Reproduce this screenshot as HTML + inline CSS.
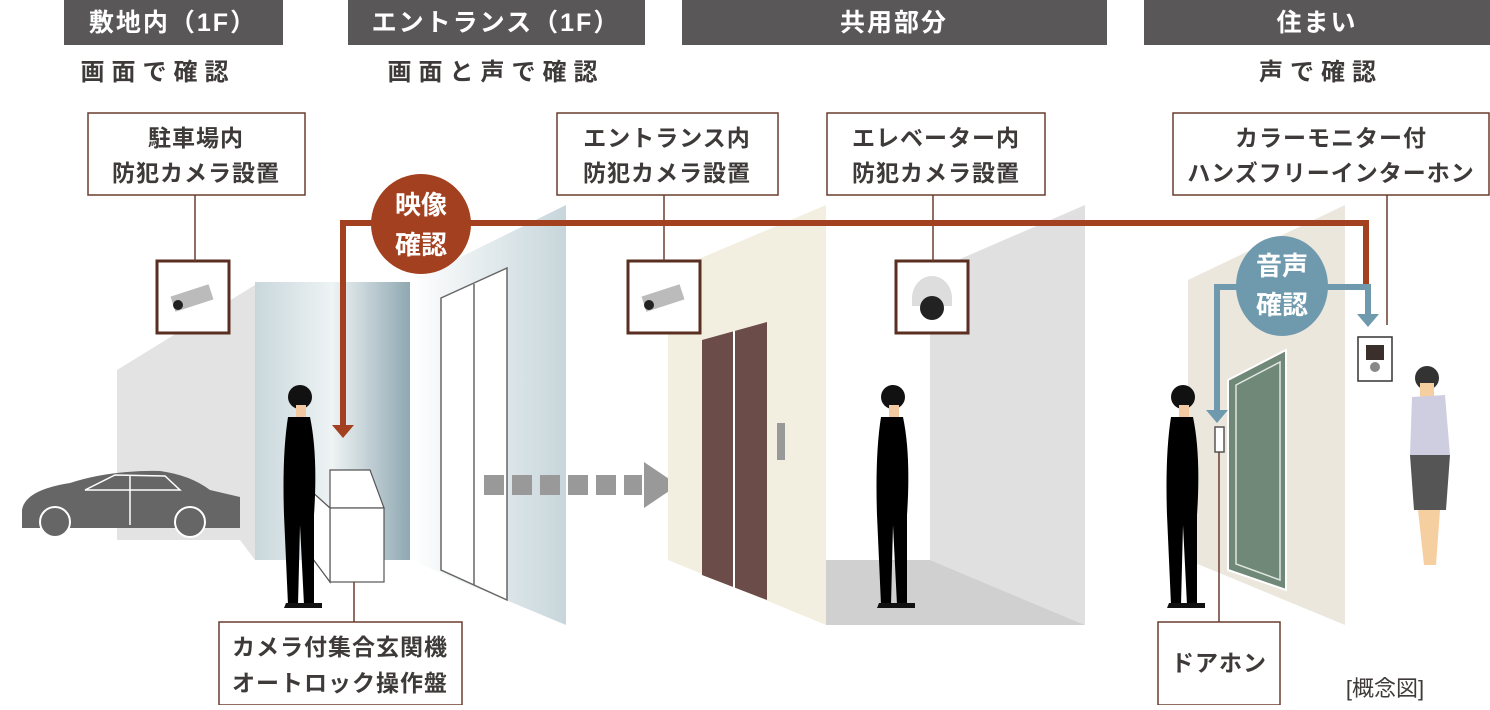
<!DOCTYPE html>
<html><head><meta charset="utf-8"><style>
body{margin:0;background:#fff;width:1490px;height:705px;overflow:hidden}
svg text{font-family:"Liberation Sans","Noto Sans CJK JP",sans-serif;font-weight:bold}
</style></head><body>
<svg width="1490" height="705" viewBox="0 0 1490 705" xmlns="http://www.w3.org/2000/svg">
<defs>
<linearGradient id="gl" x1="0" x2="1" y1="0" y2="0"><stop offset="0" stop-color="#c9d7dc"/><stop offset="0.5" stop-color="#eef3f4"/><stop offset="1" stop-color="#8fa8b2"/></linearGradient>
<linearGradient id="gl2" x1="0" x2="1"><stop offset="0" stop-color="#fff"/><stop offset="1" stop-color="#c7d6db"/></linearGradient>
<g id="man"><circle cx="0" cy="-208" r="12" fill="#111"/><path d="M-4,-200 h10 v12 h-10z" fill="#f2c9a0"/><path d="M-12,-188 Q-18,-150 -16,-90 L-12,0 L-2,0 L0,-80 L4,0 L14,0 L14,-90 Q18,-150 10,-188 Z" fill="#000"/><path d="M-14,-2 h18 v5 h-20z M2,-2 h20 v5 h-20z" fill="#111"/></g>
</defs>
<g fill="#595757"><rect x="64" y="0" width="219" height="45"/><rect x="348" y="0" width="297" height="45"/><rect x="682" y="0" width="425" height="45"/><rect x="1144" y="0" width="346" height="45"/></g>
<g fill="#fff" font-size="25" text-anchor="middle" letter-spacing="2"><text x="173" y="31">敷地内（1F）</text><text x="496" y="31">エントランス（1F）</text><text x="894" y="31">共用部分</text><text x="1317" y="31">住まい</text></g>
<g fill="#3e3a39" font-size="24" text-anchor="middle" letter-spacing="7"><text x="158" y="80">画面で確認</text><text x="496" y="80">画面と声で確認</text><text x="1321" y="80">声で確認</text></g>
<polygon points="117,370 255,285 255,560 240,540 117,540" fill="#e3e3e3"/>
<rect x="255" y="282" width="155" height="278" fill="url(#gl)"/>
<polygon points="410,282 566,205 566,625 410,560" fill="url(#gl2)"/>
<polygon points="441,298 507,268 507,600 441,570" fill="#fff" stroke="#666" stroke-width="1.5"/><line x1="474" y1="284" x2="474" y2="585" stroke="#666" stroke-width="1.5"/>
<path d="M22,510 Q25,490 70,483 Q110,470 160,471 Q190,475 210,490 L240,497 L240,528 L22,528Z" fill="#666"/>
<circle cx="55" cy="522" r="15" fill="#666" stroke="#fff" stroke-width="2"/><circle cx="190" cy="522" r="15" fill="#666" stroke="#fff" stroke-width="2"/>
<path d="M85,490 L115,475 L165,476 L180,490Z M130,476 V525" fill="none" stroke="#fff" stroke-width="1.5"/>
<polygon points="330,470 370,470 384,508 330,508" fill="#fff" stroke="#555" stroke-width="1.2"/>
<rect x="330" y="508" width="54" height="74" fill="#fff" stroke="#555" stroke-width="1.2"/>
<polygon points="330,508 310,490 310,555 330,582" fill="#fff" stroke="#555" stroke-width="1.2"/>
<use href="#man" x="300" y="605"/>
<g fill="#999"><rect x="484" y="475" width="20" height="20"/><rect x="512" y="475" width="20" height="20"/><rect x="540" y="475" width="20" height="20"/><rect x="568" y="475" width="20" height="20"/><rect x="596" y="475" width="20" height="20"/><rect x="624" y="475" width="18" height="20"/><polygon points="644,462 678,485 644,508"/></g>
<polygon points="668,272 826,205 826,625 668,560" fill="#f3efe0"/>
<polygon points="702,340 767,322 767,600 702,575" fill="#6b4c48"/><line x1="734" y1="331" x2="734" y2="588" stroke="#fff" stroke-width="2"/>
<rect x="777" y="423" width="8" height="37" fill="#999"/>
<polygon points="930,272 1085,205 1085,625 930,560" fill="#e0e0e0"/>
<polygon points="826,560 930,560 1085,625 826,625" fill="#d0d0d0"/>
<use href="#man" x="893" y="605"/>
<polygon points="1188,280 1345,205 1345,625 1188,560" fill="#ebe7dd"/>
<polygon points="1228,380 1286,350 1286,590 1228,570" fill="#6f8878" stroke="#fff" stroke-width="2"/>
<polygon points="1236,385 1280,362 1280,580 1236,564" fill="none" stroke="#dfe6e0" stroke-width="1.5"/>
<rect x="1215" y="427" width="9" height="25" fill="#fff" stroke="#555" stroke-width="1.5"/>
<use href="#man" x="1183" y="605"/>
<rect x="1358" y="337" width="34" height="44" fill="#fff" stroke="#333" stroke-width="1.5"/><rect x="1366" y="345" width="18" height="15" fill="#3a2f2a"/><circle cx="1375" cy="367" r="5" fill="#888"/>
<circle cx="1427" cy="378" r="12" fill="#333"/><rect x="1420" y="383" width="14" height="14" fill="#f5cfa0"/>
<path d="M1412,397 L1445,395 L1450,455 L1410,455Z" fill="#cfcde0"/><path d="M1410,455 L1450,455 L1446,510 L1414,510Z" fill="#555"/><path d="M1418,510 h22 l-4,55 h-12z" fill="#f5cfa0"/>
<g fill="#fff" stroke="#5a2e20" stroke-width="3"><rect x="157" y="261" width="72" height="72"/><rect x="628" y="261" width="72" height="72"/><rect x="896" y="261" width="72" height="72"/></g>
<g fill="#bbb"><rect x="172" y="290" width="40" height="16" transform="rotate(-18 192 298)"/><rect x="643" y="290" width="40" height="16" transform="rotate(-18 663 298)"/></g>
<g fill="#222"><circle cx="178" cy="305" r="5"/><circle cx="649" cy="305" r="5"/></g>
<path d="M912,298 a20,22 0 0 1 40,0 v8 h-40z" fill="#ddd"/><circle cx="932" cy="308" r="12" fill="#222"/>
<g fill="#fff" stroke="#6b3d2e" stroke-width="1.5"><rect x="88" y="113" width="217" height="82"/><rect x="557" y="113" width="221" height="82"/><rect x="827" y="113" width="218" height="82"/><rect x="1173" y="113" width="316" height="82"/><rect x="219" y="622" width="243" height="83"/><rect x="1158" y="622" width="122" height="83"/></g>
<g stroke="#6b3d2e" stroke-width="1.5"><line x1="195" y1="195" x2="195" y2="261"/><line x1="664" y1="195" x2="664" y2="261"/><line x1="933" y1="195" x2="933" y2="261"/><line x1="1387" y1="195" x2="1387" y2="325"/><line x1="354" y1="582" x2="354" y2="622"/><line x1="1219" y1="452" x2="1219" y2="622"/></g>
<g fill="#3e3a39" font-size="23" text-anchor="middle" letter-spacing="1"><text x="196" y="146">駐車場内</text><text x="196" y="181">防犯カメラ設置</text><text x="667" y="146">エントランス内</text><text x="667" y="181">防犯カメラ設置</text><text x="936" y="146">エレベーター内</text><text x="936" y="181">防犯カメラ設置</text><text x="1331" y="146">カラーモニター付</text><text x="1331" y="181">ハンズフリーインターホン</text><text x="340" y="655">カメラ付集合玄関機</text><text x="340" y="691">オートロック操作盤</text><text x="1219" y="671">ドアホン</text></g>
<text x="1385" y="696" font-size="22" fill="#3e3a39" text-anchor="middle" style="font-weight:normal">[概念図]</text>
<g stroke="#a2401f" stroke-width="6" fill="none"><polyline points="343,428 343,223 1366,223 1366,290"/></g>
<polygon points="332,425 354,425 343,438" fill="#a2401f"/>
<circle cx="421" cy="224" r="50" fill="#a2401f"/>
<g fill="#fff" font-size="26" text-anchor="middle"><text x="421" y="214">映像</text><text x="421" y="254">確認</text></g>
<g stroke="#6f9aae" stroke-width="6" fill="none"><polyline points="1250,287 1217,287 1217,412"/><polyline points="1315,287 1368,287 1368,316"/></g>
<polygon points="1206,410 1228,410 1217,423" fill="#6f9aae"/><polygon points="1357,314 1379,314 1368,327" fill="#6f9aae"/>
<ellipse cx="1282" cy="286" rx="46" ry="50" fill="#6f9aae"/>
<g fill="#fff" font-size="26" text-anchor="middle"><text x="1282" y="275">音声</text><text x="1282" y="314">確認</text></g>
</svg>
</body></html>
